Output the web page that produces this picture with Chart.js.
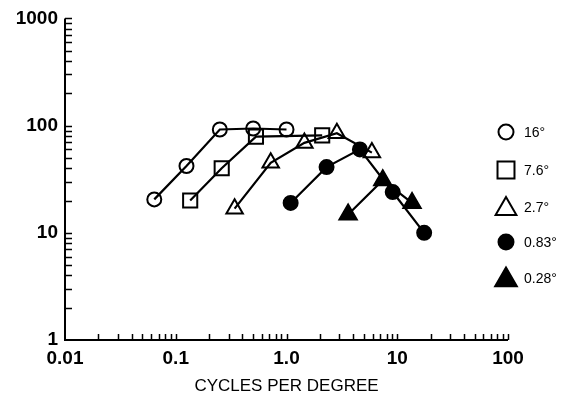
<!DOCTYPE html>
<html>
<head>
<meta charset="utf-8">
<script src="https://cdn.jsdelivr.net/npm/chart.js@4.4.0/dist/chart.umd.min.js"></script>
<style>
  html, body { margin: 0; padding: 0; background: #fff; }
  #wrap { width: 564px; height: 401px; }
</style>
</head>
<body>
<div id="wrap"><canvas id="chart" width="564" height="401"></canvas></div>
<script>
// field sizes (legend)
const fieldSizes = ['16°', '7.6°', '2.7°', '0.83°', '0.28°'];

// spatial frequency (c/deg) and sensitivity per field size
const freq16 = [0.064, 0.125, 0.25, 0.5, 1.0];
const sens16 = [20.5, 42, 92, 94, 92];

const freq7 = [0.135, 0.26, 0.53, 2.1];
const sens7 = [20, 40, 79, 81];

const freq2 = [0.34, 0.72, 1.45, 2.85, 5.9];
const sens2 = [16.8, 45, 69, 85, 56];

const freq08 = [1.09, 2.3, 4.6, 9.1, 17.5];
const sens08 = [19, 41, 60, 24, 10];

const freq03 = [3.6, 7.4, 13.6];
const sens03 = [14.8, 31, 19];

const xTicks = [0.01, 0.1, 1, 10, 100];
const xTickLabels = ['0.01', '0.1', '1.0', '10', '100'];
const yTicks = [1, 10, 100, 1000];
const yTickLabels = ['1', '10', '100', '1000'];

const toPoints = (xs, ys) => xs.map((x, i) => ({ x: x, y: ys[i] }));

const markers = [
  { style: 'circle', fill: false, r: 7, lr: 7.5 },
  { style: 'rect', fill: false, r: 10, lr: 12 },
  { style: 'triangle', fill: false, r: 9.5, lr: 12 },
  { style: 'circle', fill: true, r: 7, lr: 7.5 },
  { style: 'triangle', fill: true, r: 10, lr: 12.5 }
];

const series = [
  toPoints(freq16, sens16),
  toPoints(freq7, sens7),
  toPoints(freq2, sens2),
  toPoints(freq08, sens08),
  toPoints(freq03, sens03)
];

const datasets = series.map((pts, i) => ({
  label: fieldSizes[i],
  data: pts,
  showLine: true,
  borderColor: '#000',
  borderWidth: 2.2,
  pointStyle: markers[i].style,
  pointRadius: markers[i].r,
  pointBorderWidth: 2,
  pointBorderColor: '#000',
  pointBackgroundColor: markers[i].fill ? '#000' : 'rgba(0,0,0,0)',
  tension: 0
}));

function drawMarker(ctx, style, x, y, r, fill) {
  ctx.beginPath();
  if (style === 'circle') {
    ctx.arc(x, y, r, 0, Math.PI * 2);
  } else if (style === 'rect') {
    const s = r * Math.SQRT1_2;
    ctx.rect(x - s, y - s, 2 * s, 2 * s);
  } else {
    let a = 0;
    ctx.moveTo(x + Math.sin(a) * r, y - Math.cos(a) * r);
    a += Math.PI * 2 / 3;
    ctx.lineTo(x + Math.sin(a) * r, y - Math.cos(a) * r);
    a += Math.PI * 2 / 3;
    ctx.lineTo(x + Math.sin(a) * r, y - Math.cos(a) * r);
    ctx.closePath();
  }
  if (fill) { ctx.fillStyle = '#000'; ctx.fill(); }
  ctx.lineWidth = 2;
  ctx.strokeStyle = '#000';
  ctx.stroke();
}

// axes with inward log ticks + legend on the right
const framePlugin = {
  id: 'frame',
  afterDraw(chart) {
    const ctx = chart.ctx;
    const xs = chart.scales.x;
    const ys = chart.scales.y;
    const area = chart.chartArea;
    ctx.save();
    ctx.strokeStyle = '#000';
    ctx.lineWidth = 2;
    ctx.beginPath();
    ctx.moveTo(area.left, area.top);
    ctx.lineTo(area.left, area.bottom);
    ctx.lineTo(area.right, area.bottom);
    ctx.stroke();

    ctx.lineWidth = 1.5;
    ctx.beginPath();
    for (let d = 0.01; d < 100; d *= 10) {
      for (let m = 1; m <= 10; m++) {
        const v = d * m;
        if (v <= 0.01) continue;
        const px = Math.round(xs.getPixelForValue(v)) + 0.5;
        ctx.moveTo(px, area.bottom);
        ctx.lineTo(px, area.bottom - 6);
      }
    }
    for (let d = 1; d < 1000; d *= 10) {
      for (let m = 1; m <= 10; m++) {
        const v = d * m;
        if (v <= 1) continue;
        const py = Math.round(ys.getPixelForValue(v)) + 0.5;
        ctx.moveTo(area.left, py);
        ctx.lineTo(area.left + 7, py);
      }
    }
    ctx.stroke();

    // legend
    const lx = 506;
    const ly = [132, 170, 207, 242, 278];
    ctx.font = '14px "Liberation Sans", Arial, sans-serif';
    ctx.textBaseline = 'middle';
    ctx.textAlign = 'left';
    fieldSizes.forEach((lab, i) => {
      const mk = markers[i];
      const oy = mk.style === 'triangle' ? 2 : 0;
      drawMarker(ctx, mk.style, lx, ly[i] + oy, mk.lr, mk.fill);
      ctx.fillStyle = '#000';
      ctx.fillText(lab, 524, ly[i] + 1);
    });
    ctx.restore();
  }
};

new Chart(document.getElementById('chart'), {
  type: 'line',
  data: { datasets: datasets },
  options: {
    responsive: false,
    animation: false,
    layout: { padding: { top: 17, right: 56, left: 0, bottom: 0 } },
    plugins: {
      legend: { display: false },
      tooltip: { enabled: false }
    },
    scales: {
      x: {
        type: 'logarithmic',
        min: 0.01,
        max: 100,
        grid: { display: false, drawTicks: false },
        border: { display: false },
        afterBuildTicks: (scale) => { scale.ticks = xTicks.map(v => ({ value: v })); },
        afterFit: (scale) => { scale.height = 61; },
        ticks: {
          color: '#000',
          padding: 7,
          maxRotation: 0,
          autoSkip: false,
          font: { family: '"Liberation Sans", Arial, sans-serif', size: 19, weight: 'bold' },
          callback: (v) => xTickLabels[xTicks.indexOf(v)] || ''
        },
        title: {
          display: true,
          text: 'CYCLES PER DEGREE',
          color: '#000',
          padding: { top: 0, bottom: 4 },
          font: { family: '"Liberation Sans", Arial, sans-serif', size: 17 }
        }
      },
      y: {
        type: 'logarithmic',
        min: 1,
        max: 1000,
        grid: { display: false, drawTicks: false },
        border: { display: false },
        afterBuildTicks: (scale) => { scale.ticks = yTicks.map(v => ({ value: v })); },
        afterFit: (scale) => { scale.width = 65; },
        ticks: {
          color: '#000',
          padding: 7,
          autoSkip: false,
          font: { family: '"Liberation Sans", Arial, sans-serif', size: 19, weight: 'bold' },
          callback: (v) => yTickLabels[yTicks.indexOf(v)] || ''
        }
      }
    }
  },
  plugins: [framePlugin]
});
</script>
</body>
</html>
